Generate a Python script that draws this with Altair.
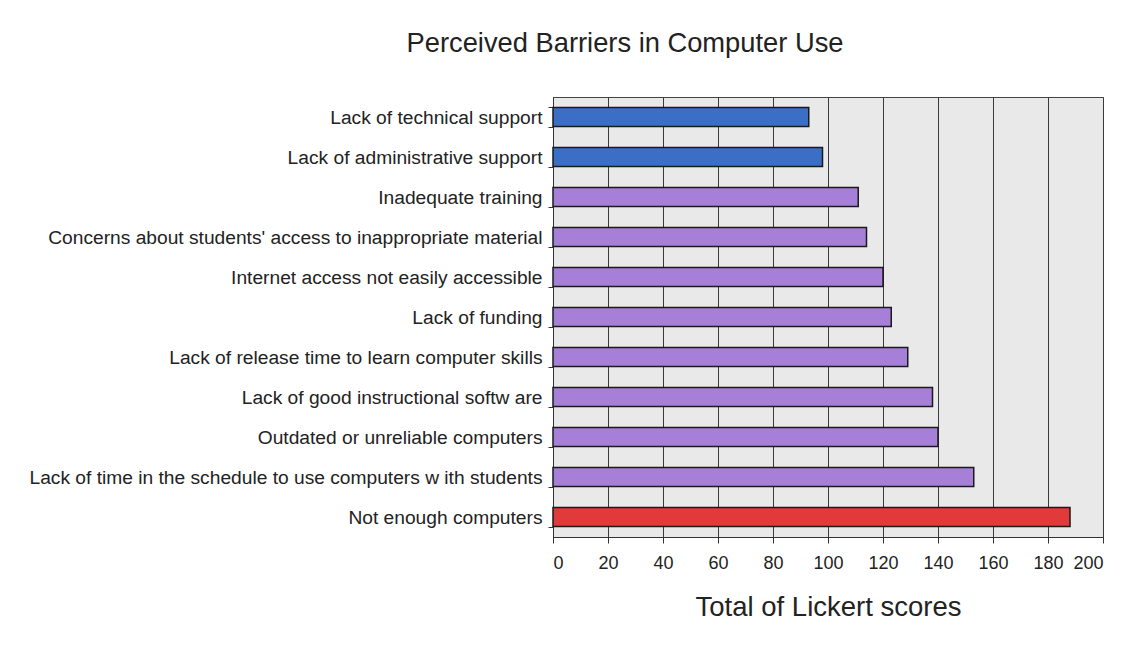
import altair as alt
import pandas as pd

barriers = [
    "Lack of technical support",
    "Lack of administrative support",
    "Inadequate training",
    "Concerns about students' access to inappropriate material",
    "Internet access not easily accessible",
    "Lack of funding",
    "Lack of release time to learn computer skills",
    "Lack of good instructional softw are",
    "Outdated or unreliable computers",
    "Lack of time in the schedule to use computers w ith students",
    "Not enough computers",
]
scores = [93, 98, 111, 114, 120, 123, 129, 138, 140, 153, 188]
groups = ["blue", "blue", "purple", "purple", "purple", "purple", "purple",
          "purple", "purple", "purple", "red"]

group_domain = ["blue", "purple", "red"]
group_colors = ["#3b6fc6", "#a57fd8", "#e03a3a"]

df = pd.DataFrame({"barrier": barriers, "score": scores, "group": groups})

FONT = "Liberation Sans"

chart = alt.Chart(df).mark_bar(stroke="#1a1a1a", strokeWidth=1.5).encode(
    x=alt.X(
        "score:Q",
        scale=alt.Scale(domain=[0, 200], nice=False),
        axis=alt.Axis(
            values=list(range(0, 201, 20)),
            title="Total of Lickert scores",
            titleFontSize=27.5,
            titleFont=FONT,
            titleFontWeight="normal",
            titleColor="#222",
            titlePadding=21,
            labelFontSize=18,
            labelFont=FONT,
            labelColor="#222",
            labelPadding=11,
            tickSize=6,
            tickColor="#333",
            domainColor="#333",
            grid=True,
            gridColor="#3a3a3a",
            gridWidth=1,
        ),
    ),
    y=alt.Y(
        "barrier:N",
        sort=None,
        scale=alt.Scale(paddingInner=0.52, paddingOuter=0.26),
        axis=alt.Axis(
            title=None,
            labelFontSize=19.2,
            labelFont=FONT,
            labelColor="#222",
            labelPadding=6,
            labelLimit=600,
            tickBand="extent",
            tickSize=5,
            tickColor="#333",
            domainColor="#333",
            grid=False,
        ),
    ),
    color=alt.Color(
        "group:N",
        scale=alt.Scale(domain=group_domain, range=group_colors),
        legend=None,
    ),
).properties(
    width=550,
    height=440,
    background="white",
    title=alt.TitleParams(
        "Perceived Barriers in Computer Use",
        fontSize=27.3,
        font=FONT,
        fontWeight="normal",
        color="#222",
        anchor="middle",
        frame="group",
        dx=-203,
        offset=31,
    ),
    autosize=alt.AutoSizeParams(type="none"),
    padding={"left": 545, "top": 89, "right": 18, "bottom": 100},
).configure_view(
    fill="#e9e9e9",
    stroke="#444",
    strokeWidth=1,
)

chart.save("out.html", embed_options={"renderer": "svg", "actions": False})
